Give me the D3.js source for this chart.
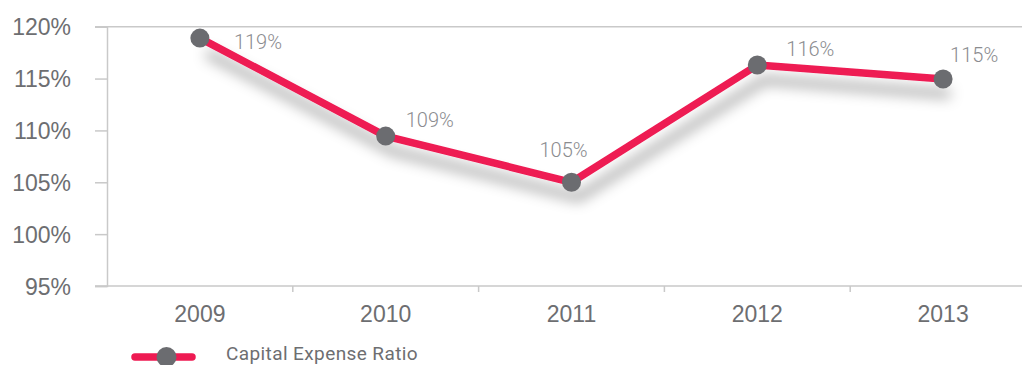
<!DOCTYPE html>
<html>
<head>
<meta charset="utf-8">
<script src="https://cdn.jsdelivr.net/npm/d3@7/dist/d3.min.js"></script>
<style>
  html, body { margin: 0; padding: 0; background: #fff; }
  svg { display: block; font-family: Roboto, "Noto Sans", sans-serif; }
</style>
</head>
<body>
<svg id="chart" width="1022" height="365"></svg>
<script>
// Capital expense ratio by year
const years = ["2009", "2010", "2011", "2012", "2013"];
const ratios = [118.9, 109.45, 105.0, 116.3, 114.95];
const yTicks = [95, 100, 105, 110, 115, 120];
const seriesName = "Capital Expense Ratio";

const W = 1022, H = 365;
const plotLeft = 107, plotRight = 1036, plotTop = 26.7, plotBottom = 286;
const lineColor = "#ee1a52", dotColor = "#6b6c70", textColor = "#6d6e71", axisColor = "#c9c9c9";

const svg = d3.select("#chart");

const x = d3.scaleBand().domain(years).range([plotLeft, plotRight]).padding(0);
const y = d3.scaleLinear().domain([95, 120]).range([plotBottom, plotTop]);

// soft drop shadow under the line
const defs = svg.append("defs");
const f = defs.append("filter").attr("id", "shadow")
  .attr("x", "-10%").attr("y", "-30%").attr("width", "120%").attr("height", "200%");
f.append("feDropShadow").attr("dx", 7).attr("dy", 15).attr("stdDeviation", 7)
  .attr("flood-color", "#000").attr("flood-opacity", 0.38);

// y axis
const yAxis = d3.axisLeft(y).tickValues(yTicks).tickSize(12).tickPadding(24)
  .tickFormat(d => d + "%");
const gy = svg.append("g").attr("transform", `translate(${plotLeft},0)`).call(yAxis);
gy.select(".domain").attr("stroke", axisColor).attr("stroke-width", 1.5);
gy.selectAll(".tick line").attr("stroke", axisColor).attr("stroke-width", 1.5);
gy.selectAll(".tick text").attr("fill", textColor).style("font-size", "23px")
  .attr("dy", "0.36em");

// top gridline
svg.append("line").attr("x1", 95).attr("x2", W).attr("y1", y(120)).attr("y2", y(120))
  .attr("stroke", axisColor).attr("stroke-width", 1.5);

// x axis
const xAxis = d3.axisBottom(x).tickSize(0).tickPadding(20);
const gx = svg.append("g").attr("transform", `translate(0,${plotBottom})`).call(xAxis);
gx.select(".domain").remove();
gx.selectAll(".tick text").attr("fill", textColor).style("font-size", "23px");
svg.append("line").attr("x1", 95).attr("x2", W).attr("y1", plotBottom).attr("y2", plotBottom)
  .attr("stroke", axisColor).attr("stroke-width", 1.5);
svg.append("g").selectAll("line").data(years.slice(1)).join("line")
  .attr("x1", d => x(d)).attr("x2", d => x(d))
  .attr("y1", plotBottom).attr("y2", plotBottom + 6)
  .attr("stroke", axisColor).attr("stroke-width", 1.5);

// series
const pts = years.map((yr, i) => ({ year: yr, value: ratios[i] }));
const cx = d => x(d.year) + x.bandwidth() / 2;
const series = svg.append("g").attr("filter", "url(#shadow)");
series.append("path").datum(pts)
  .attr("fill", "none").attr("stroke", lineColor).attr("stroke-width", 7.5)
  .attr("stroke-linejoin", "round")
  .attr("d", d3.line().x(cx).y(d => y(d.value)));
svg.append("g").selectAll("circle").data(pts).join("circle")
  .attr("cx", cx).attr("cy", d => y(d.value)).attr("r", 9.5).attr("fill", dotColor);

// value labels, each nudged off its point
const labelNudge = [[34, 11], [20, -9], [-32, -25], [29, -9], [7, -17]];
svg.append("g").selectAll("text").data(pts).join("text")
  .attr("x", (d, i) => cx(d) + labelNudge[i][0])
  .attr("y", (d, i) => y(d.value) + labelNudge[i][1])
  .attr("fill", "#8b8c8f").style("font-size", "20px").style("font-weight", 300)
  .text(d => d3.format(".0f")(d.value) + "%");

// legend
const lg = svg.append("g");
lg.append("line").attr("x1", 135).attr("x2", 192).attr("y1", 357).attr("y2", 357)
  .attr("stroke", lineColor).attr("stroke-width", 7.5).attr("stroke-linecap", "round");
lg.append("circle").attr("cx", 166.5).attr("cy", 357).attr("r", 10).attr("fill", dotColor);
lg.append("text").attr("x", 226).attr("y", 360).attr("fill", textColor)
  .style("font-size", "19px").style("letter-spacing", "0.4px").text(seriesName);
</script>
</body>
</html>
